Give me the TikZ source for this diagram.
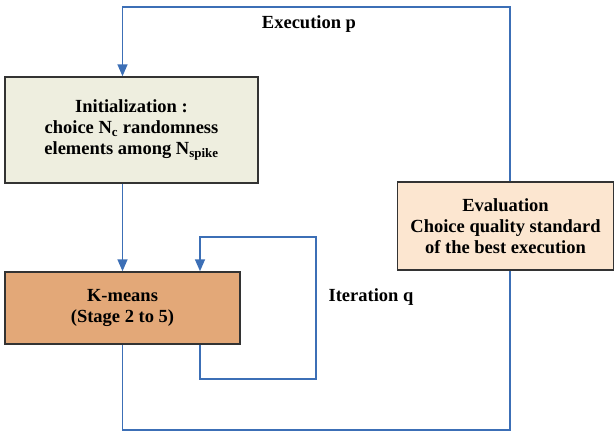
\documentclass[tikz,border=0pt]{standalone}
\usepackage{fontspec}
\setmainfont{Liberation Serif}
\usepackage{xcolor}
\usetikzlibrary{arrows.meta}

\definecolor{flowblue}{HTML}{3C6FB6}
\definecolor{initfill}{HTML}{EEEEDF}
\definecolor{kmfill}{HTML}{E3A878}
\definecolor{evalfill}{HTML}{FCE6D0}

\tikzset{
  stagebox/.style={draw=black!80, line width=1.5pt, align=center,
    font=\fontsize{18.5}{21}\selectfont\bfseries, inner sep=2pt},
  flow/.style={draw=flowblue, line width=1.6pt},
  flowarrow/.style={flow, -{Triangle[width=10pt,length=12pt]}},
  looplabel/.style={font=\fontsize{18.5}{21}\selectfont\bfseries}
}

\begin{document}
\begin{tikzpicture}[x=1pt, y=1pt]
                \useasboundingbox (0,0) rectangle (615,-432);
                \node [stagebox, fill=initfill, minimum width=253pt, minimum height=106pt] (init) at (131.5,-130) {Initialization :\\ choice N\textsubscript{c} randomness\\ elements among N\textsubscript{spike}};
                \node [stagebox, fill=kmfill, minimum width=235pt, minimum height=72pt] (kmeans) at (122.5,-308) {K-means\\ (Stage 2 to 5)};
                \node [stagebox, fill=evalfill, minimum width=216pt, minimum height=88pt] (eval) at (505.5,-226) {Evaluation\\ Choice quality standard\\ of the best execution};
                \node [looplabel] (execp) at (309,-24) {Execution p};
                \node [looplabel] (iterq) at (371,-297) {Iteration q};
                \coordinate (lx) at (200,-379);
                \coordinate (rx) at (316,-237);
                \coordinate (bot) at (510,-430);
                \coordinate (top) at (510,-7);
                \draw [flowarrow] (init.south -| kmeans.north) -- (kmeans.north);
                \draw [flowarrow] (kmeans.south -| lx) -- (lx) -| (rx) -| (kmeans.north -| lx);
                \draw [flow] (kmeans.south) |- (bot) -- (eval.south -| bot);
                \draw [flowarrow] (eval.north -| top) -- (top) -| (init.north -| kmeans.north);
            \end{tikzpicture}
\end{document}
